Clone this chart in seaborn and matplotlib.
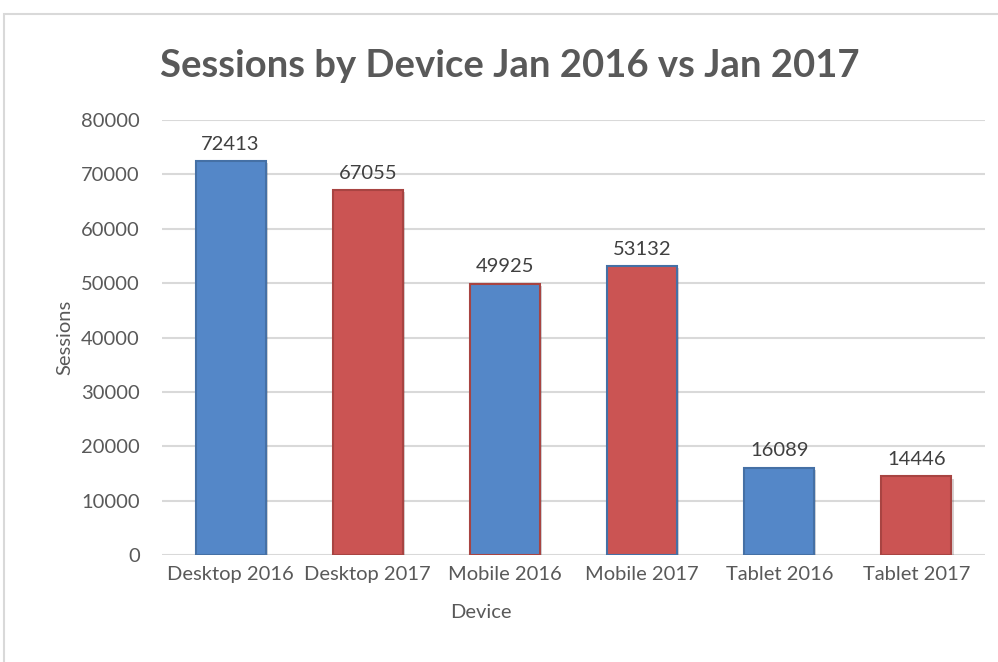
import numpy as np
import pandas as pd
import seaborn as sns
import matplotlib.pyplot as plt
import matplotlib.patheffects as pe
from matplotlib.patches import Rectangle

devices = ["Desktop 2016", "Desktop 2017", "Mobile 2016", "Mobile 2017", "Tablet 2016", "Tablet 2017"]
years = ["2016", "2017", "2016", "2017", "2016", "2017"]
sessions = [72413, 67055, 49925, 53132, 16089, 14446]
yticks = [0, 10000, 20000, 30000, 40000, 50000, 60000, 70000, 80000]

sns.set_theme(style="white")
plt.rcParams['font.family'] = ['Lato', 'DejaVu Sans']
txt = '#595959'

df = pd.DataFrame({"Device": devices, "Sessions": sessions, "Year": years})

fig = plt.figure(figsize=(9.98, 6.62), dpi=100)
fig.patches.append(Rectangle((4 / 998, -0.05), 1.0, 1 - 14 / 662 + 0.05, transform=fig.transFigure,
                             fill=False, edgecolor='#d9d9d9', linewidth=1.5))
ax = fig.add_axes([0.1623, 0.1616, 0.8247, 0.6571])

sns.barplot(data=df, x="Device", y="Sessions", hue="Year",
            palette={"2016": "#5487c8", "2017": "#cb5453"},
            dodge=False, width=0.51, legend=False, ax=ax, saturation=1)

edges = {"2016": "#4570a5", "2017": "#a84442"}
for bar, yr in zip(ax.patches, years):
    bar.set_edgecolor(edges[yr])
    bar.set_linewidth(1.5)
    bar.set_path_effects([pe.SimplePatchShadow(offset=(1.5, -1.5), alpha=0.2), pe.Normal()])
    bar.set_zorder(3)

for cont in ax.containers:
    ax.bar_label(cont, fmt='%d', padding=6, fontsize=14.5, color='#404040')

ax.set_ylim(0, 80000)
ax.set_yticks(yticks)
ax.set_yticklabels([str(v) for v in yticks])
ax.yaxis.grid(True, color='#d9d9d9', linewidth=1.5, zorder=0)
ax.set_axisbelow(True)
for s in ax.spines.values():
    s.set_visible(False)
ax.tick_params(axis='both', length=0, labelsize=14.5, colors=txt)
ax.tick_params(axis='y', pad=16)
ax.tick_params(axis='x', pad=8)

ax.set_ylabel("Sessions", fontsize=14.5, color=txt)
ax.yaxis.set_label_coords(-0.108, 0.5)
ax.set_xlabel("Device", fontsize=14.5, color=txt)
ax.xaxis.set_label_coords(0.388, -0.112)

fig.text(0.511, 0.9, "Sessions by Device Jan 2016 vs Jan 2017", ha='center', va='center',
         fontsize=27.5, fontweight='bold', color=txt)

fig.savefig("out.png", dpi=100)
